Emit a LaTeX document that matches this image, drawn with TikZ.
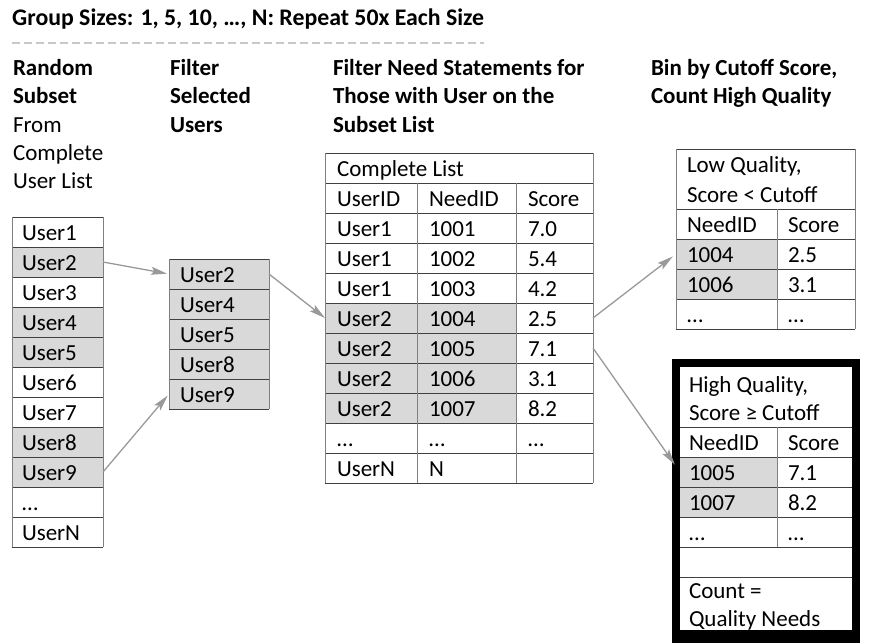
\documentclass[tikz,border=0pt]{standalone}
\usepackage{fontspec}
\setmainfont{Carlito}
\usetikzlibrary{arrows.meta}
\definecolor{cellgray}{HTML}{D9D9D9}
\definecolor{hl}{HTML}{404040}
\definecolor{vl}{HTML}{808080}
\definecolor{arrowgray}{HTML}{999999}
\definecolor{dashgray}{HTML}{C8C8C8}
\newcommand\cf{\fontsize{23}{28}\selectfont}
\newcommand\tf{\fontsize{23.8}{28}\selectfont}
\begin{document}
\begin{tikzpicture}[x=1pt,y=-1pt,
 rowbox/.style={minimum height=30pt, inner sep=0pt, outer sep=0pt, anchor=north west},
 ctxt/.style={anchor=base west, inner sep=0pt, outer sep=0pt, font=\cf},
 btxt/.style={anchor=base west, inner sep=0pt, outer sep=0pt, font=\cf\bfseries},
 hln/.style={draw=hl, line width=1pt},
 vln/.style={draw=vl, line width=1pt},
 arr/.style={draw=arrowgray, line width=1.3pt, -{Stealth[length=16pt,width=8pt,inset=3pt,fill=arrowgray]}},
]
\useasboundingbox (0,0) rectangle (872,643);

% title
\node[anchor=base west, inner sep=0pt, font=\tf\bfseries] (title) at (12,25) {Group Sizes: 1, 5, 10, …, N: Repeat 50x Each Size};
\draw[dashgray, line width=2.5pt, dash pattern=on 8pt off 4pt] (12,43) -- (484,43);

% column headers
\node[btxt] (ha1) at (13,75) {Random};
\node[btxt] (ha2) at (13,103) {Subset};
\node[ctxt] (ha3) at (13,132) {From};
\node[ctxt] (ha4) at (13,160) {Complete};
\node[ctxt] (ha5) at (13,188) {User List};
\node[btxt] (hb1) at (170,75) {Filter};
\node[btxt] (hb2) at (170,103) {Selected};
\node[btxt] (hb3) at (170,132) {Users};
\node[btxt] (hc1) at (333,75) {Filter Need Statements for};
\node[btxt] (hc2) at (333,103) {Those with User on the};
\node[btxt] (hc3) at (333,132) {Subset List};
\node[btxt] (hd1) at (651,75) {Bin by Cutoff Score,};
\node[btxt] (hd2) at (651,103) {Count High Quality};

% left table
\foreach \t/\f [count=\i] in {User1/white,User2/cellgray,User3/white,User4/cellgray,User5/cellgray,User6/white,User7/white,User8/cellgray,User9/cellgray,…/white,UserN/white} {
  \node[rowbox, minimum width=91pt, fill=\f] (l\i) at (12,{187+30*\i}) {};
  \node[ctxt] (lt\i) at (22,{210+30*\i}) {\t};
}
\foreach \k in {0,...,11} \draw[hln] (12,{217+30*\k}) -- (103,{217+30*\k});
\draw[vln] (12,217) -- (12,547);
\draw[vln] (103,217) -- (103,547);

% middle table
\foreach \t [count=\i] in {User2,User4,User5,User8,User9} {
  \node[rowbox, minimum width=100pt, fill=cellgray] (m\i) at (169,{229+30*\i}) {};
  \node[ctxt] (mt\i) at (180,{252+30*\i}) {\t};
}
\foreach \k in {0,...,5} \draw[hln] (169,{259+30*\k}) -- (269,{259+30*\k});
\draw[vln] (169,259) -- (169,409);
\draw[vln] (269,259) -- (269,409);

% big table
\node[rowbox, minimum width=268pt] (bcl) at (325,153) {};
\node[ctxt] (bclt) at (337,176) {Complete List};
\node[rowbox, minimum width=268pt] (bh) at (325,183) {};
\node[ctxt] (bhu) at (337,206) {UserID};
\node[ctxt] (bhn) at (429,206) {NeedID};
\node[ctxt] (bhs) at (528,206) {Score};
\foreach \u/\n/\s/\f [count=\i] in {User1/1001/7.0/white,User1/1002/5.4/white,User1/1003/4.2/white,User2/1004/2.5/cellgray,User2/1005/7.1/cellgray,User2/1006/3.1/cellgray,User2/1007/8.2/cellgray,…/…/…/white,UserN/N/{}/white} {
  \node[rowbox, minimum width=268pt] (b\i) at (325,{183+30*\i}) {};
  \fill[\f] (325,{183+30*\i}) rectangle (516,{213+30*\i});
  \node[ctxt] (bu\i) at (337,{206+30*\i}) {\u};
  \node[ctxt] (bn\i) at (429,{206+30*\i}) {\n};
  \node[ctxt] (bs\i) at (528,{206+30*\i}) {\s};
}
\foreach \k in {0,...,11} \draw[hln] (325,{153+30*\k}) -- (593,{153+30*\k});
\draw[vln] (325,153) -- (325,483);
\draw[vln] (593,153) -- (593,483);
\draw[vln] (417,183) -- (417,483);
\draw[vln] (516,183) -- (516,483);

% low quality table
\node[rowbox, minimum width=179pt, minimum height=60pt] (loh) at (676,149) {};
\node[ctxt] (loh1) at (687,172) {Low Quality,};
\node[ctxt] (loh2) at (687,202) {Score < Cutoff};
\foreach \n/\s/\f [count=\i] in {NeedID/Score/white,1004/2.5/cellgray,1006/3.1/cellgray,…/…/white} {
  \node[rowbox, minimum width=179pt] (lo\i) at (676,{179+30*\i}) {};
  \fill[\f] (676,{179+30*\i}) rectangle (777,{209+30*\i});
  \node[ctxt] (lon\i) at (687,{202+30*\i}) {\n};
  \node[ctxt] (los\i) at (788,{202+30*\i}) {\s};
}
\foreach \y in {149,209,239,269,299,329} \draw[hln] (676,\y) -- (855,\y);
\draw[vln] (676,149) -- (676,329);
\draw[vln] (855,149) -- (855,329);
\draw[vln] (777,209) -- (777,329);

% high quality table
\fill[black] (672,359) rectangle (860,643);
\fill[white] (680,367) rectangle (852,630);
\node[rowbox, minimum width=172pt, minimum height=60pt] (hih) at (680,367) {};
\node[ctxt] (hih1) at (689,392) {High Quality,};
\node[ctxt] (hih2) at (689,420) {Score ≥ Cutoff};
\foreach \n/\s/\f [count=\i] in {NeedID/Score/white,1005/7.1/cellgray,1007/8.2/cellgray,…/…/white} {
  \node[rowbox, minimum width=172pt] (hi\i) at (680,{397+30*\i}) {};
  \fill[\f] (680,{397+30*\i}) rectangle (777,{427+30*\i});
  \node[ctxt] (hin\i) at (689,{420+30*\i}) {\n};
  \node[ctxt] (his\i) at (788,{420+30*\i}) {\s};
}
\node[rowbox, minimum width=172pt] (hib) at (680,547) {};
\node[rowbox, minimum width=172pt, minimum height=53pt] (hic) at (680,577) {};
\node[ctxt] (hic1) at (689,598) {Count =};
\node[ctxt] (hic2) at (689,626) {Quality Needs};
\foreach \y in {427,457,487,517,547,577} \draw[hln] (680,\y) -- (852,\y);
\draw[vln] (777,427) -- (777,547);

% connectors
\draw[arr, shorten >=2pt] (l2.east) -- (m1.west);
\draw[arr, shorten >=2pt] (l9.east) -- (m5.west);
\draw[arr] (m1.east) -- (b4.west);
\draw[arr, shorten >=4pt] (b4.east) -- (lo2.west);
\draw[arr, shorten >=9pt] (b5.east) -- (hi2.west);
\end{tikzpicture}
\end{document}
